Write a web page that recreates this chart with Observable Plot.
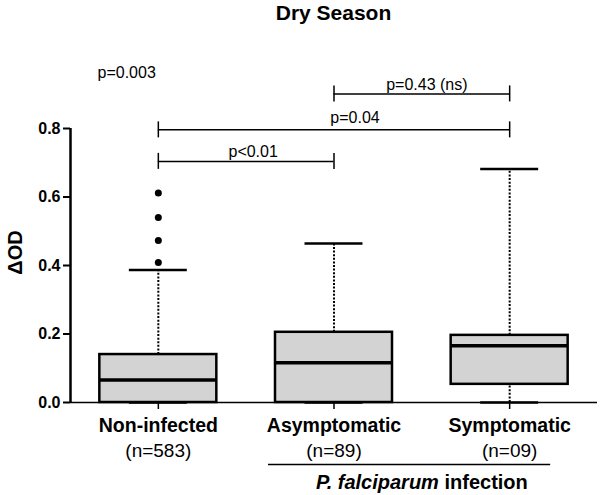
<!DOCTYPE html>
<html><head><meta charset="utf-8">
<script src="https://cdn.jsdelivr.net/npm/d3@7"></script>
<script src="https://cdn.jsdelivr.net/npm/@observablehq/plot@0.6"></script>
<style>
body{margin:0;background:#fff;font-family:"Liberation Sans",Arial,sans-serif;}
#title{height:30px;box-sizing:border-box;font-size:21px;font-weight:bold;line-height:26px;padding-left:67px;text-align:center;margin:0;color:#000;overflow:visible}
</style></head><body>
<div id="title">Dry Season</div>
<div id="chart"></div>
<script>
// ---- data ----
const categories = ["Non-infected", "Asymptomatic", "Symptomatic"];
const nLabels = ["(n=583)", "(n=89)", "(n=09)"];
const q1 = [0, 0, 0.053];
const median = [0.066, 0.116, 0.166];
const q3 = [0.140, 0.205, 0.196];
const whiskerLow = [0, 0, 0];
const whiskerHigh = [0.387, 0.464, 0.682];
const outliersNonInfected = [0.409, 0.473, 0.540, 0.612];
const bracketFrom = ["Asymptomatic", "Non-infected", "Non-infected"];
const bracketTo = ["Symptomatic", "Symptomatic", "Asymptomatic"];
const bracketLevel = [0.901, 0.796, 0.704];
const bracketLabels = ["p=0.43 (ns)", "p=0.04", "p<0.01"];
const overallP = "p=0.003";
const groupLabelParts = ["P. falciparum", " infection"];
const groupMembers = ["Asymptomatic", "Symptomatic"];
const yTicks = [0, 0.2, 0.4, 0.6, 0.8];
const yLabel = "ΔOD";

// ---- styles ----
const boxHalf = 0.333, capHalf = 0.165;
const labelDx = [5, 21, 7], labelDy = [-9, -12, -10];
const xDomain = [-0.5, categories.length - 0.5];

const pos = c => categories.indexOf(c);
const rows = categories.map((c, i) => ({pos: i, c, n: nLabels[i], q1: q1[i], med: median[i], q3: q3[i], lo: whiskerLow[i], hi: whiskerHigh[i]}));
const outRows = outliersNonInfected.map(v => ({pos: pos("Non-infected"), v}));
const brackets = bracketLabels.map((l, i) => ({a: pos(bracketFrom[i]), b: pos(bracketTo[i]), level: bracketLevel[i], label: l}));
const gA = pos(groupMembers[0]), gB = pos(groupMembers[1]);

const plot = Plot.plot({
  width: 600, height: 465,
  marginTop: 98, marginBottom: 93, marginLeft: 70, marginRight: 3,
  style: {fontFamily: "'Liberation Sans', Arial, sans-serif", fontSize: "16px", color: "#000", background: "#fff"},
  x: {type: "linear", domain: xDomain},
  y: {domain: [0, 0.8]},
  marks: [
    // whiskers
    Plot.ruleX(rows, {x: "pos", y1: "q3", y2: "hi", stroke: "#000", strokeWidth: 2, strokeDasharray: "2,1.6"}),
    Plot.ruleX(rows, {x: "pos", y1: "lo", y2: "q1", stroke: "#000", strokeWidth: 2, strokeDasharray: "2,1.6"}),
    Plot.ruleY(rows, {y: "hi", x1: d => d.pos - capHalf, x2: d => d.pos + capHalf, stroke: "#000", strokeWidth: 2.5}),
    Plot.ruleY(rows, {y: "lo", x1: d => d.pos - capHalf, x2: d => d.pos + capHalf, stroke: "#000", strokeWidth: 2.5}),
    // boxes
    Plot.rect(rows, {x1: d => d.pos - boxHalf, x2: d => d.pos + boxHalf, y1: "q1", y2: "q3", fill: "#d3d3d3", stroke: "#000", strokeWidth: 2.5}),
    Plot.ruleY(rows, {y: "med", x1: d => d.pos - boxHalf, x2: d => d.pos + boxHalf, stroke: "#000", strokeWidth: 3.5}),
    Plot.dot(outRows, {x: "pos", y: "v", r: 3.5, fill: "#000", stroke: null}),
    // axes
    Plot.ruleY([0], {stroke: "#000", strokeWidth: 1.5}),
    Plot.ruleX([xDomain[0]], {y1: 0, y2: yTicks[yTicks.length - 1], stroke: "#000", strokeWidth: 2.5}),
    Plot.axisY({ticks: yTicks, tickFormat: d3.format(".1f"), tickSize: 7, tickPadding: 3, strokeWidth: 2, fontSize: 16, fontWeight: "bold", label: null, fill: "#000"}),
    Plot.axisX({ticks: categories.map((c, i) => i), tickSize: 7, strokeWidth: 1.5, tickFormat: () => "", label: null}),
    Plot.text([yLabel], {frameAnchor: "left", textAnchor: "middle", lineAnchor: "middle", rotate: -90, dx: -55, dy: -13, fontSize: 20, fontWeight: "bold", fill: "#000"}),
    // category labels
    Plot.text(rows, {x: "pos", text: "c", frameAnchor: "bottom", lineAnchor: "middle", dy: 23, fontSize: 19.5, fontWeight: "bold", fill: "#000"}),
    Plot.text(rows, {x: "pos", text: "n", frameAnchor: "bottom", lineAnchor: "middle", dy: 48, fontSize: 19, fill: "#000"}),
    Plot.ruleY([0], {x1: gA, x2: gB, dy: 62, insetLeft: -65.5, insetRight: -41, stroke: "#000", strokeWidth: 1.5}),
    Plot.text([groupLabelParts.join("")], {x: (gA + gB) / 2, frameAnchor: "bottom", lineAnchor: "middle", dy: 80, fontSize: 20, fontWeight: "bold", fill: "#000"}),
    // brackets
    Plot.ruleY(brackets, {y: "level", x1: "a", x2: "b", stroke: "#000", strokeWidth: 1.5}),
    Plot.ruleX(brackets, {x: "a", y1: "level", y2: "level", insetTop: -8, insetBottom: -8, stroke: "#000", strokeWidth: 1.5}),
    Plot.ruleX(brackets, {x: "b", y1: "level", y2: "level", insetTop: -8, insetBottom: -8, stroke: "#000", strokeWidth: 1.5}),
    ...brackets.map((b, i) => Plot.text([b], {x: d => (d.a + d.b) / 2, y: "level", text: "label", lineAnchor: "middle", dx: labelDx[i], dy: labelDy[i], fontSize: 16, fill: "#000"})),
    Plot.text([overallP], {frameAnchor: "top-left", textAnchor: "start", lineAnchor: "middle", dx: 27, dy: -56, fontSize: 16, fill: "#000"})
  ]
});
document.getElementById("chart").appendChild(plot);

// mixed styling for the group label
const ns = "http://www.w3.org/2000/svg";
plot.querySelectorAll("text").forEach(t => {
  if (t.textContent === groupLabelParts.join("")) {
    t.textContent = "";
    const a = document.createElementNS(ns, "tspan");
    a.setAttribute("font-style", "italic");
    a.textContent = groupLabelParts[0];
    const b = document.createElementNS(ns, "tspan");
    b.textContent = groupLabelParts[1];
    t.appendChild(a); t.appendChild(b);
  }
});
</script>
</body></html>
